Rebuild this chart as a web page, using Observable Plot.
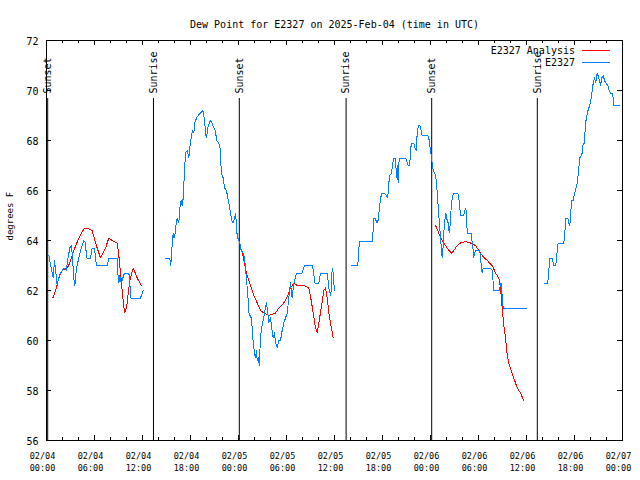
<!DOCTYPE html>
<html>
<head>
<meta charset="utf-8">
<script src="https://cdn.jsdelivr.net/npm/d3@7"></script>
<script src="https://cdn.jsdelivr.net/npm/@observablehq/plot@0.6"></script>
<style>
  html, body { margin: 0; padding: 0; background: #fff; }
  #chart { width: 640px; height: 480px; }
</style>
</head>
<body>
<div id="chart"></div>
<script>
// ---- data (hours since 2025-02-04 00:00 UTC, degrees F) ----
const titleText = "Dew Point for E2327 on 2025-Feb-04 (time in UTC)";
const yLabel = "degrees F";
const seriesNames = ["E2327 Analysis", "E2327"];

const obs1 = [[0.29,63.4],[0.84,62.5],[1.0,63.2],[1.34,62.2],[1.5,62.5],[1.75,62.7],[2.16,62.9],[2.5,62.8],[2.59,63.1],[2.91,63.7],[3.09,63.8],[3.21,63.5],[3.41,62.5],[3.54,62.2],[3.75,62.9],[4.04,63.3],[4.34,63.7],[4.66,64.0],[4.88,63.9],[5.0,63.3],[5.5,63.3],[5.71,63.7],[6.0,63.7],[6.13,63.3],[6.25,63.0],[7.59,63.0],[7.79,63.3],[8.84,63.3],[8.91,62.7],[9.04,62.3],[9.16,62.6],[9.34,62.3],[9.75,62.7],[10.29,62.7],[10.41,62.4],[10.5,61.7],[11.75,61.7],[12.09,62.0]];
const obs2 = [[14.75,63.3],[15.41,63.3],[15.5,63.0],[15.63,63.3],[15.71,63.9],[15.84,64.3],[15.91,64.1],[16.04,64.2],[16.21,64.7],[16.34,64.9],[16.54,64.7],[16.66,65.3],[16.84,65.6],[16.96,65.4],[17.09,65.7],[17.25,66.8],[17.38,67.5],[17.59,67.6],[17.79,67.3],[17.91,67.7],[18.09,68.1],[18.25,68.4],[18.41,68.3],[18.54,68.7],[18.75,68.9],[18.96,69.0],[19.25,69.1],[19.54,69.2],[19.66,69.0],[19.79,68.7],[19.88,68.3],[20.0,68.1],[20.16,68.5],[20.34,68.7],[20.5,68.8],[20.71,68.7],[20.91,68.5],[21.13,68.4],[21.25,68.0],[21.54,67.9],[21.75,67.6],[21.84,66.7],[22.09,66.5],[22.25,66.1],[22.5,66.0],[22.66,65.7],[22.84,65.4],[23.0,65.1],[23.16,64.8],[23.34,64.7],[23.5,64.9],[23.66,65.1],[23.75,64.4],[23.91,64.1],[24.16,63.9],[24.34,63.6],[24.59,63.5],[24.75,63.3],[24.88,62.9],[25.0,62.4],[25.16,61.9],[25.29,61.1],[25.59,60.9],[25.71,60.5],[25.84,59.9],[26.0,59.5],[26.13,59.3],[26.25,59.6],[26.34,59.2],[26.5,59.3],[26.59,59.0],[26.75,60.1],[26.88,60.5],[27.09,60.8],[27.25,61.1],[27.5,61.5],[27.66,61.1],[27.79,60.7],[28.0,60.9],[28.16,60.5],[28.34,60.1],[28.5,60.3],[28.63,59.9],[28.84,59.7],[29.04,60.0],[29.25,60.0],[29.46,60.4],[29.66,60.7],[29.88,60.9],[30.09,61.1],[30.29,61.7],[30.5,62.3],[30.71,61.7],[30.84,62.1],[31.0,62.4],[31.25,62.7],[31.96,62.7],[32.25,63.0],[33.21,63.0],[33.41,62.7],[33.5,62.3],[34.04,62.3],[34.25,62.7],[35.09,62.7],[35.29,62.1],[35.5,61.8],[35.59,62.0],[35.71,62.9],[35.84,62.7],[35.91,62.3],[36.04,62.0]];
const obs3 = [[38.13,63.0],[38.91,63.0],[39.04,63.7],[39.16,63.96],[40.71,63.96],[40.79,64.2],[40.91,64.9],[41.13,64.9],[41.25,64.7],[41.34,64.8],[41.41,64.7],[41.63,65.3],[41.75,65.7],[41.96,65.9],[42.25,65.9],[42.46,65.8],[42.66,65.7],[42.79,66.3],[42.91,66.6],[43.13,66.7],[43.29,67.1],[43.41,67.3],[43.63,67.3],[43.75,66.5],[43.84,67.0],[43.96,66.3],[44.04,67.1],[44.16,67.3],[44.88,67.3],[45.0,67.2],[45.21,67.0],[45.41,67.0],[45.5,67.7],[45.71,67.9],[45.91,67.9],[46.04,67.7],[46.21,67.6],[46.34,68.3],[46.5,68.6],[46.66,68.6],[46.84,68.4],[46.96,68.2],[47.66,68.2],[47.79,68.1],[47.91,67.8],[48.09,67.4],[48.21,67.1],[48.34,66.8],[48.63,66.6],[48.75,66.3],[48.91,65.6],[49.04,65.0],[49.16,64.5],[49.25,64.1],[49.38,63.6],[49.46,63.3],[49.59,63.8],[49.66,64.3],[49.79,64.8],[49.91,65.1],[50.09,64.8],[50.21,64.7],[50.29,64.4],[50.38,64.3],[50.5,64.9],[50.63,65.5],[50.79,65.8],[50.91,65.9],[51.41,65.9],[51.54,65.7],[51.66,65.3],[51.75,65.0],[52.16,65.0],[52.29,65.2],[52.41,65.3],[52.5,65.0],[52.59,64.3],[53.09,64.3],[53.21,63.9],[53.34,63.6],[53.41,63.3],[53.5,63.5],[53.63,63.6],[54.16,63.6],[54.34,63.0],[54.46,62.7],[54.59,62.9],[54.75,62.9],[55.5,62.9],[55.71,62.8],[55.84,62.3],[55.91,62.0],[56.63,62.0],[56.75,62.3],[56.88,62.3],[56.96,61.7],[57.09,61.3],[60.0,61.3]];
const obs4 = [[62.16,62.3],[62.66,62.3],[62.79,62.8],[62.91,63.3],[63.21,63.3],[63.41,63.0],[63.66,63.0],[63.84,63.6],[63.96,63.9],[64.66,63.9],[64.79,64.3],[64.91,64.9],[65.16,64.9],[65.29,64.7],[65.41,64.6],[65.5,64.9],[65.63,65.6],[65.84,65.6],[66.0,65.9],[66.13,66.0],[66.34,66.3],[66.41,66.5],[66.54,66.9],[66.66,67.3],[66.84,67.4],[66.96,67.5],[67.09,67.9],[67.25,67.9],[67.38,68.8],[67.5,68.8],[67.59,69.1],[67.79,69.3],[67.91,69.4],[68.09,69.7],[68.21,70.0],[68.34,70.3],[68.5,70.5],[68.66,70.3],[68.84,70.7],[69.04,70.5],[69.25,70.2],[69.41,70.5],[69.59,70.6],[69.75,70.4],[69.91,70.3],[70.16,70.2],[70.34,70.0],[70.5,69.9],[70.75,69.9],[70.84,69.7],[70.91,69.4],[71.66,69.4]];

const ana1 = [[0.79,61.7],[1.13,62.0],[1.54,62.5],[1.96,62.8],[2.59,62.9],[2.91,63.1],[3.41,63.6],[4.04,64.1],[4.75,64.5],[5.09,64.5],[5.71,64.4],[6.13,63.9],[6.75,63.3],[7.38,63.7],[7.79,64.1],[8.21,64.0],[8.84,63.9],[9.04,63.4],[9.46,62.0],[9.75,61.1],[10.0,61.3],[10.41,62.4],[10.84,62.9],[11.34,62.5],[11.84,62.2]];
const ana2 = [[24.5,63.5],[25.0,62.7],[25.29,62.4],[25.59,62.1],[25.91,61.8],[26.34,61.5],[26.75,61.2],[27.16,61.1],[27.79,61.0],[28.63,61.1],[29.04,61.3],[29.66,61.5],[30.16,61.8],[30.5,62.1],[30.91,62.3],[31.34,62.2],[32.16,62.2],[32.79,62.1],[33.09,61.6],[33.34,61.1],[33.63,60.5],[33.84,60.3],[34.04,60.7],[34.34,61.3],[34.66,62.0],[34.88,62.1],[35.09,61.7],[35.29,61.1],[35.5,60.7],[35.84,60.1]];
const ana3 = [[48.63,64.6],[48.91,64.4],[49.16,64.2],[49.46,64.0],[49.88,63.8],[50.29,63.6],[50.63,63.5],[50.91,63.6],[51.34,63.8],[51.75,63.9],[52.38,63.96],[53.0,63.9],[53.63,63.8],[54.04,63.6],[54.46,63.4],[55.09,63.2],[55.71,63.0],[56.13,62.7],[56.54,62.5],[56.75,62.1],[56.96,61.3],[57.16,60.6],[57.38,60.1],[57.59,59.4],[57.79,59.1],[58.09,58.8],[58.41,58.5],[58.84,58.1],[59.25,57.9],[59.66,57.6]];

const eventLabels = ["Sunset", "Sunrise", "Sunset", "Sunrise", "Sunset", "Sunrise"];
const eventHours  = [0.15, 13.37, 24.1, 37.45, 48.15, 61.35];

const xMajorHours = [0, 6, 12, 18, 24, 30, 36, 42, 48, 54, 60, 66, 72];
const xMinorHours = [2, 4, 8, 10, 14, 16, 20, 22, 26, 28, 32, 34, 38, 40, 44, 46, 50, 52, 56, 58, 62, 64, 68, 70];
const yTicks = [56, 58, 60, 62, 64, 66, 68, 70, 72];

// ---- build tables ----
const t0 = Date.UTC(2025, 1, 4, 0, 0);
const toDate = h => new Date(t0 + h * 3600e3);
const toRows = (arr, seg) => arr.map(([h, v]) => ({time: toDate(h), value: v, seg}));
const obsRows = [obs1, obs2, obs3, obs4].flatMap((a, i) => toRows(a, i));
const anaRows = [ana1, ana2, ana3].flatMap((a, i) => toRows(a, i));
const events = eventHours.map((h, i) => ({time: toDate(h), label: eventLabels[i]}));
const xMajor = xMajorHours.map(toDate);
const xMinor = xMinorHours.map(toDate);

const RED = "#ff0000";
const BLUE = "#0080ff";
const FONT = "'DejaVu Sans Mono', monospace";

const chart = Plot.plot({
  width: 640,
  height: 480,
  marginLeft: 46,
  marginRight: 18,
  marginTop: 40,
  marginBottom: 40,
  style: {fontFamily: FONT, background: "#fff", color: "#000"},
  x: {type: "utc", domain: [toDate(0), toDate(72)]},
  y: {domain: [56, 72]},
  marks: [
    // event lines and labels
    Plot.ruleX(events, {x: "time", insetTop: 58, stroke: "#000", strokeWidth: 1}),
    Plot.text(events, {x: "time", text: "label", frameAnchor: "top", dy: 53, rotate: -90,
      textAnchor: "start", lineAnchor: "middle", fontSize: 10, fill: "#000"}),
    // series
    Plot.line(anaRows, {x: "time", y: "value", z: "seg", stroke: RED, strokeWidth: 1, shapeRendering: "crispEdges"}),
    Plot.line(obsRows, {x: "time", y: "value", z: "seg", stroke: BLUE, strokeWidth: 1, shapeRendering: "crispEdges"}),
    // inward ticks
    Plot.ruleX(xMajor, {x: d => d, insetTop: 395, stroke: "#000"}),
    Plot.ruleX(xMajor, {x: d => d, insetBottom: 395, stroke: "#000"}),
    Plot.ruleX(xMinor, {x: d => d, insetTop: 397, stroke: "#000"}),
    Plot.ruleX(xMinor, {x: d => d, insetBottom: 397, stroke: "#000"}),
    Plot.ruleY(yTicks, {y: d => d, insetRight: 571, stroke: "#000"}),
    Plot.ruleY(yTicks, {y: d => d, insetLeft: 571, stroke: "#000"}),
    // axes labels
    Plot.axisX({ticks: xMajor, tickSize: 0, tickPadding: 9, label: null,
      tickFormat: d3.utcFormat("%m/%d\n%H:%M"), fontSize: 8.5, lineHeight: 1.5, dx: -4}),
    Plot.axisY({ticks: yTicks, tickSize: 0, tickPadding: 8, label: null, fontSize: 10, dy: 1.5}),
    Plot.text([yLabel], {frameAnchor: "left", dx: -36, rotate: -90, fontSize: 9, fill: "#000"}),
    Plot.text([titleText], {frameAnchor: "top", dy: -20, fontSize: 10, fill: "#000"}),
    Plot.frame({stroke: "#000"})
  ]
});

// legend (top-right, inside frame)
const svg = d3.select(chart);
const legend = svg.append("g").attr("font-family", FONT).attr("font-size", 10);
[[seriesNames[0], RED, 50], [seriesNames[1], BLUE, 62]].forEach(([name, color, y]) => {
  legend.append("text").attr("x", 575).attr("y", y).attr("dy", "0.35em")
    .attr("text-anchor", "end").attr("fill", "#000").text(name);
  legend.append("line").attr("x1", 582).attr("x2", 610).attr("y1", y + 0.5).attr("y2", y + 0.5)
    .attr("stroke", color).attr("stroke-width", 1);
});

document.getElementById("chart").appendChild(chart);
</script>
</body>
</html>
